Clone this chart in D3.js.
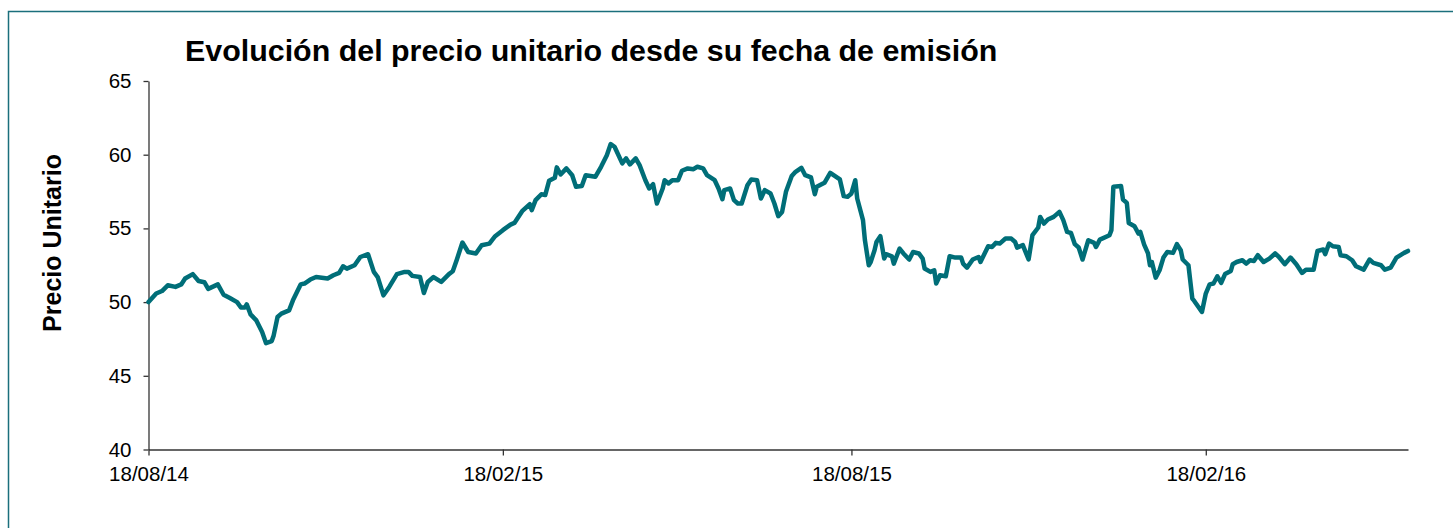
<!DOCTYPE html>
<meta charset="utf-8">
<style>
body {
  margin: 0;
  background: #fff;
  font-family: Arial, "Liberation Sans", Helvetica, sans-serif;
}
.title {
  font: bold 30.4px Arial, "Liberation Sans", sans-serif;
  fill: #000;
}
.ylabel {
  font: bold 25px Arial, "Liberation Sans", sans-serif;
  text-anchor: middle;
}
.axis text {
  font: 20.5px Arial, "Liberation Sans", sans-serif;
  fill: #000;
}
.axis path,
.axis line {
  stroke: #333;
  stroke-width: 1.3px;
}
.serie {
  fill: none;
  stroke: #006e78;
  stroke-width: 4.5px;
  stroke-linejoin: round;
  stroke-linecap: round;
}
</style>
<svg width="1453" height="528"></svg>
<script src="https://d3js.org/d3.v7.min.js"></script>
<script>

// fecha de emision y dias transcurridos desde ella
var fechaEmision = "2014-08-18";

var dias = [0, 4, 7, 10, 14, 17, 19, 23, 26, 29, 31, 36, 39, 42, 46, 48, 50, 51, 53, 56,
  59, 61, 64, 65, 67, 69, 73, 75, 79, 81, 84, 87, 93, 96, 99, 101, 103, 107, 110, 114,
  117, 119, 122, 125, 129, 133, 135, 137, 141, 143, 145, 148, 152, 156, 158, 160, 163, 166, 170, 173,
  177, 180, 184, 188, 190, 194, 198, 199, 201, 204, 206, 208, 211, 212, 214, 217, 220, 222, 225, 227,
  232, 235, 238, 240, 242, 246, 248, 250, 253, 255, 258, 260, 262, 264, 267, 268, 270, 272, 275, 277,
  280, 283, 285, 288, 290, 294, 296, 298, 299, 302, 304, 306, 308, 311, 313, 316, 318, 320, 323, 325,
  327, 329, 331, 334, 336, 339, 341, 344, 346, 347, 351, 354, 359, 361, 363, 365, 367, 368, 371, 372,
  374, 375, 377, 378, 380, 382, 383, 386, 387, 390, 392, 395, 397, 400, 402, 403, 406, 408, 409, 411,
  414, 416, 419, 422, 423, 425, 428, 431, 432, 436, 438, 440, 442, 445, 448, 450, 451, 454, 457, 459,
  462, 463, 465, 467, 470, 473, 475, 477, 479, 481, 483, 485, 488, 491, 492, 494, 499, 500, 501, 505,
  506, 508, 509, 512, 514, 515, 517, 519, 520, 521, 523, 525, 527, 529, 532, 534, 536, 537, 540, 542,
  543, 547, 549, 551, 553, 555, 557, 559, 562, 563, 565, 568, 570, 572, 574, 576, 579, 582, 585, 587,
  590, 593, 596, 599, 601, 605, 607, 610, 611, 613, 615, 618, 619, 622, 625, 627, 631, 634, 636, 640,
  642, 645, 648, 652, 654];

var precio = [50.0, 50.58, 50.75, 51.14, 51.03, 51.2, 51.6, 51.9, 51.43, 51.35, 50.9, 51.2, 50.5, 50.3, 50.0, 49.63, 49.63, 49.85, 49.17, 48.76,
  47.97, 47.22, 47.36, 47.74, 48.99, 49.22, 49.44, 50.12, 51.2, 51.26, 51.53, 51.7, 51.6, 51.82, 51.98, 52.43, 52.27, 52.5, 53.06, 53.25,
  52.05, 51.7, 50.46, 51.03, 51.9, 52.05, 52.05, 51.78, 51.7, 50.62, 51.37, 51.7, 51.37, 51.9, 52.09, 52.84, 54.04, 53.4, 53.3, 53.86,
  53.97, 54.47, 54.88, 55.26, 55.37, 56.17, 56.64, 56.24, 56.92, 57.32, 57.26, 58.23, 58.43, 59.14, 58.66, 59.07, 58.61, 57.82, 57.87, 58.61,
  58.5, 59.18, 59.97, 60.72, 60.54, 59.41, 59.75, 59.34, 59.75, 59.29, 58.27, 57.71, 58.0, 56.69, 57.71, 58.27, 58.05, 58.27, 58.27, 58.91,
  59.07, 59.02, 59.18, 59.07, 58.61, 58.27, 57.71, 56.98, 57.6, 57.71, 56.92, 56.69, 56.69, 57.93, 58.32, 58.27, 57.03, 57.6, 57.37, 56.69,
  55.83, 56.12, 57.48, 58.55, 58.84, 59.11, 58.61, 58.46, 57.32, 57.82, 58.09, 58.77, 58.32, 57.19, 57.14, 57.37, 58.27, 57.03, 55.56, 54.2,
  52.5, 52.72, 53.52, 54.08, 54.47, 52.96, 53.25, 53.11, 52.61, 53.63, 53.3, 52.89, 53.4, 53.3, 52.95, 52.28, 52.05, 52.16, 51.26, 51.82,
  51.75, 53.11, 53.02, 53.02, 52.61, 52.34, 52.89, 53.06, 52.72, 53.79, 53.74, 54.02, 53.97, 54.31, 54.31, 54.08, 53.7, 53.86, 52.89, 54.54,
  55.06, 55.78, 55.33, 55.6, 55.78, 56.12, 55.56, 54.76, 54.69, 53.93, 53.7, 52.89, 54.2, 54.02, 53.74, 54.24, 54.54, 54.88, 57.82, 57.87,
  56.96, 56.73, 55.37, 55.15, 54.65, 54.76, 53.9, 53.3, 52.5, 52.72, 51.66, 52.16, 53.02, 53.4, 53.34, 53.93, 53.52, 52.89, 52.5, 50.24,
  50.08, 49.33, 50.58, 51.2, 51.26, 51.75, 51.3, 51.9, 52.11, 52.57, 52.72, 52.84, 52.61, 52.84, 52.79, 53.18, 52.72, 52.95, 53.3, 53.06,
  52.57, 53.02, 52.57, 51.98, 52.2, 52.2, 53.47, 53.57, 53.25, 53.97, 53.79, 53.74, 53.18, 53.11, 52.84, 52.43, 52.2, 52.89, 52.66, 52.5,
  52.2, 52.34, 53.02, 53.34, 53.47];

var ticksX = ["2014-08-18", "2015-02-18", "2015-08-18", "2016-02-18"];
var ticksY = [40, 45, 50, 55, 60, 65];

var svg = d3.select("svg");

// marco exterior
svg.append("rect")
    .attr("x", 8.5)
    .attr("y", 11.5)
    .attr("width", 1460)
    .attr("height", 530)
    .attr("fill", "none")
    .attr("stroke", "#1b6f7c")
    .attr("stroke-width", 1.5);

var parse = d3.timeParse("%Y-%m-%d"),
    inicio = parse(fechaEmision);

var data = dias.map(function(d, i) {
  return { fecha: d3.timeDay.offset(inicio, d), valor: precio[i] };
});

var x = d3.scaleTime()
    .domain([inicio, data[data.length - 1].fecha])
    .range([148.5, 1408]);

var y = d3.scaleLinear()
    .domain([40, 65])
    .range([449.5, 81]);

svg.append("g")
    .attr("class", "axis")
    .attr("transform", "translate(148.5,0)")
    .call(d3.axisLeft(y).tickValues(ticksY).tickSize(5).tickPadding(12).tickSizeOuter(0));

svg.append("g")
    .attr("class", "axis")
    .attr("transform", "translate(0,449.5)")
    .call(d3.axisBottom(x)
      .tickValues(ticksX.map(parse))
      .tickFormat(d3.timeFormat("%d/%m/%y"))
      .tickSize(6).tickPadding(11).tickSizeOuter(0));

var line = d3.line()
    .x(function(d) { return x(d.fecha); })
    .y(function(d) { return y(d.valor); });

svg.append("path")
    .datum(data)
    .attr("class", "serie")
    .attr("d", line);

svg.append("text")
    .attr("class", "title")
    .attr("x", 185)
    .attr("y", 61)
    .text("Evolución del precio unitario desde su fecha de emisión");

svg.append("text")
    .attr("class", "ylabel")
    .attr("transform", "translate(61,243) rotate(-90)")
    .text("Precio Unitario");

</script>
